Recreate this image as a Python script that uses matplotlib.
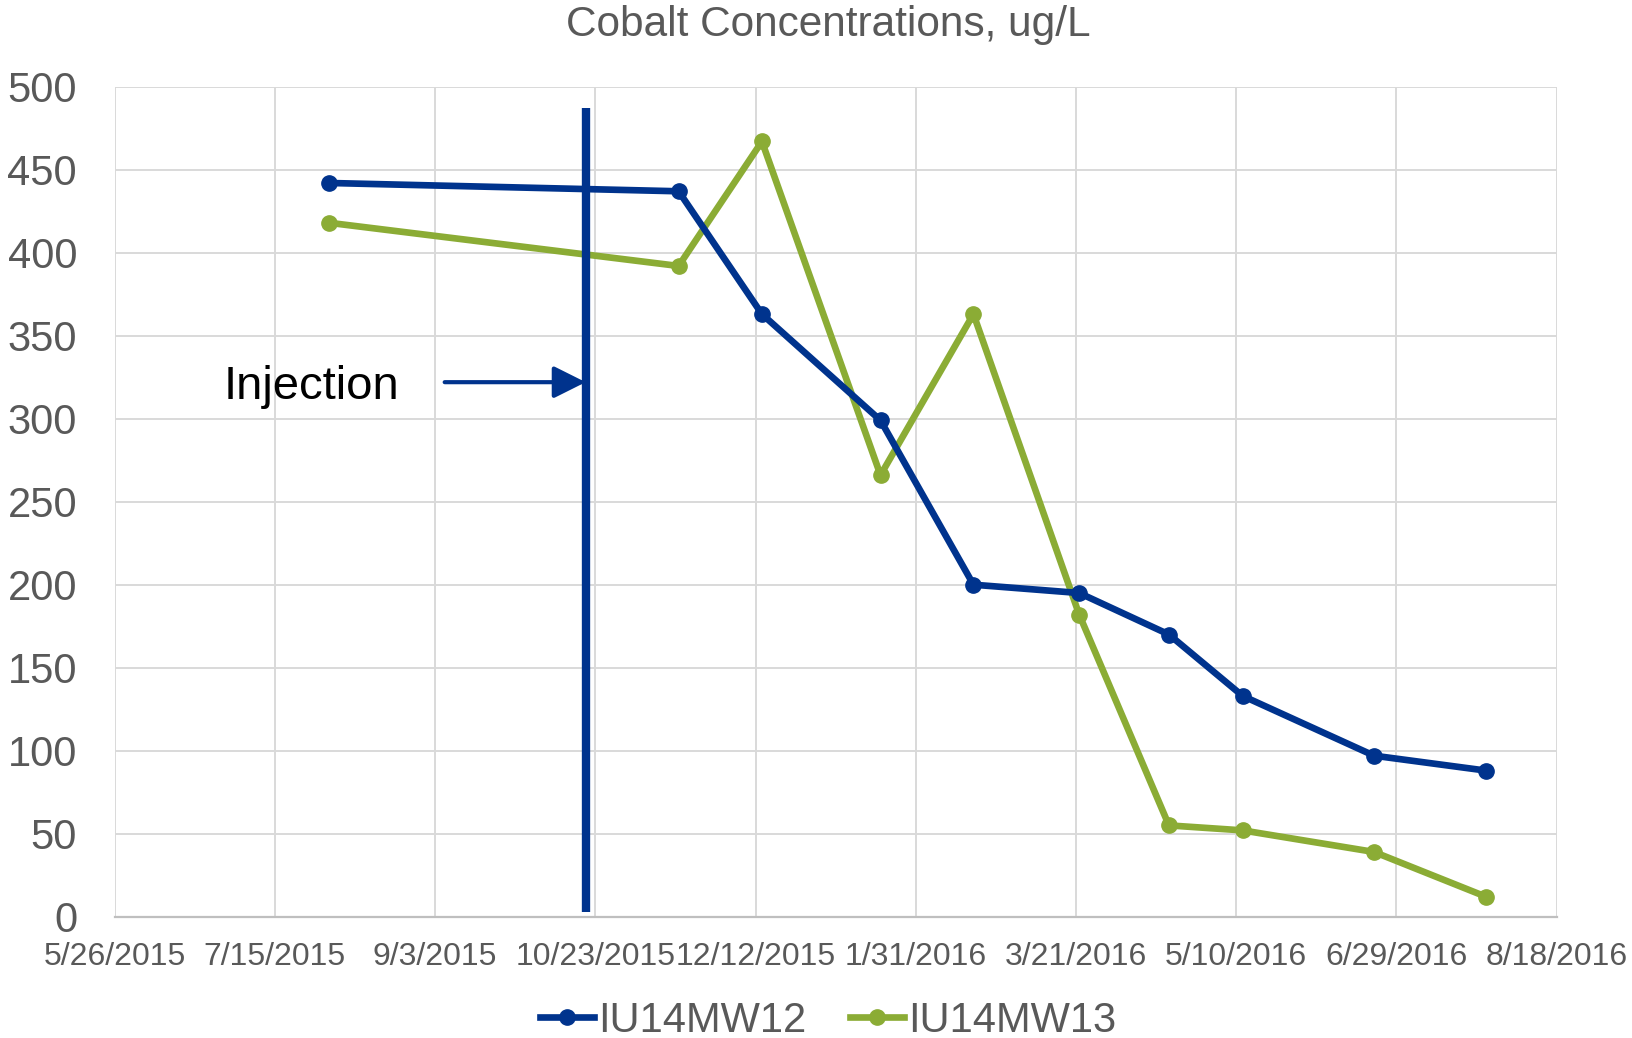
import datetime as dt
import matplotlib
matplotlib.use("Agg")
import matplotlib.pyplot as plt
import matplotlib.dates as mdates
from matplotlib.ticker import FuncFormatter, MultipleLocator

plt.rcParams['font.family'] = ['Liberation Sans', 'DejaVu Sans']

# Sampling dates and cobalt concentrations (ug/L)
sample_dates = ["2015-08-01", "2015-11-18", "2015-12-14", "2016-01-20", "2016-02-18",
                "2016-03-22", "2016-04-19", "2016-05-12", "2016-06-22", "2016-07-27"]
mw12 = [442, 437, 363, 299, 200, 195, 170, 133, 97, 88]
mw13 = [418, 392, 467, 266, 363, 182, 55, 52, 39, 12]
series_names = ["IU14MW12", "IU14MW13"]

# Injection event marker
injection_date = "2015-10-20"
injection_span = (3, 487)
arrow_start = "2015-09-06"
arrow_level = 322
label_date = "2015-06-29"
label_level = 319

x_start, x_end = "2015-05-26", "2016-08-18"
tick_step_days = 50

BLUE = "#00338D"
GREEN = "#8BAC35"
GRAY_TXT = "#595959"


def d(s):
    return dt.datetime.strptime(s, "%Y-%m-%d")


dates = [d(s) for s in sample_dates]

W, H = 1633, 1038
fig = plt.figure(figsize=(W / 100, H / 100), dpi=100)
left, right, top, bottom = 114.6, 1556.7, 86.7, 916.7
ax = fig.add_axes([left / W, 1 - bottom / H, (right - left) / W, (bottom - top) / H])

ax.plot(dates, mw12, color=BLUE, lw=4.8, marker='o', ms=11, label=series_names[0],
        solid_joinstyle='round', zorder=4)
ax.plot(dates, mw13, color=GREEN, lw=4.8, marker='o', ms=11, label=series_names[1],
        solid_joinstyle='round', zorder=3)

# Injection line, arrow and label
inj = d(injection_date)
ax.plot([inj, inj], list(injection_span), color=BLUE, lw=6, solid_capstyle='butt', zorder=5)
ax.annotate('', xy=(inj, arrow_level), xytext=(d(arrow_start), arrow_level),
            arrowprops=dict(arrowstyle='-|>,head_length=0.4,head_width=0.2',
                            color=BLUE, lw=3, mutation_scale=49,
                            shrinkA=0, shrinkB=0), zorder=5)
ax.text(d(label_date), label_level, "Injection", fontsize=34, color='black',
        ha='left', va='center', zorder=5)

# Axes
x0, x1 = d(x_start), d(x_end)
ax.set_xlim(x0, x1)
ax.set_ylim(0, 500)
n_ticks = (x1 - x0).days // tick_step_days + 1
ax.set_xticks([x0 + dt.timedelta(days=tick_step_days * i) for i in range(n_ticks)])
ax.xaxis.set_major_formatter(FuncFormatter(
    lambda v, p: (lambda t: f"{t.month}/{t.day}/{t.year}")(mdates.num2date(v))))
ax.yaxis.set_major_locator(MultipleLocator(50))

ax.grid(True, color='#D9D9D9', lw=1.4, zorder=0)
ax.set_axisbelow(True)
for s in ['top', 'right', 'left']:
    ax.spines[s].set_visible(False)
ax.spines['bottom'].set_color('#BFBFBF')
ax.spines['bottom'].set_linewidth(1.6)
ax.tick_params(axis='both', length=0, colors=GRAY_TXT)
ax.tick_params(axis='y', labelsize=30, pad=27)
ax.tick_params(axis='x', labelsize=23, pad=18)

fig.text(0.507, 1 - 25 / H, "Cobalt Concentrations, ug/L", fontsize=30.5, color=GRAY_TXT,
         ha='center', va='center')

leg = fig.legend(loc='center', bbox_to_anchor=(828 / W, 1 - 1021 / H), ncol=2,
                 frameon=False, fontsize=30, handlelength=1.3, handletextpad=0.1,
                 columnspacing=1.05, borderpad=0, borderaxespad=0)
for t in leg.get_texts():
    t.set_color(GRAY_TXT)

fig.savefig("out.png", dpi=100)
